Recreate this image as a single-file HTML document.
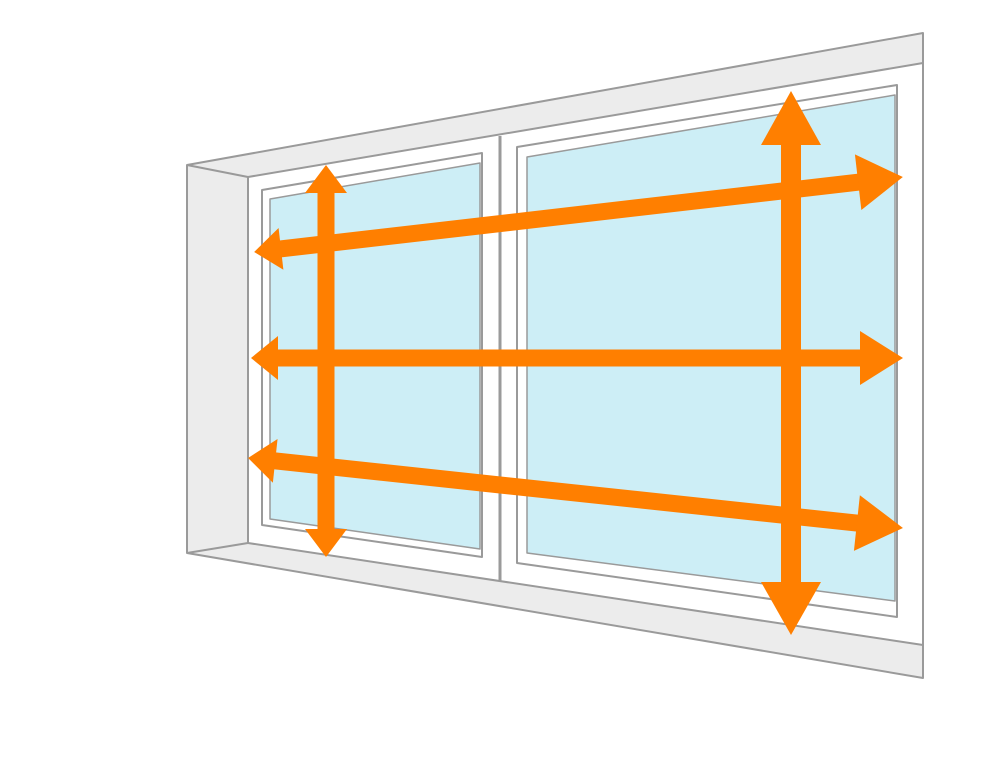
<!DOCTYPE html>
<html><head><meta charset="utf-8"><style>html,body{margin:0;padding:0;background:#fff}svg{display:block}</style></head>
<body>
<svg width="1000" height="760" viewBox="0 0 1000 760" xmlns="http://www.w3.org/2000/svg">
<g stroke="#9a9a9a" stroke-width="2" stroke-linejoin="round">
  <polygon points="187,165 923,33 923,678 187,553" fill="#ececec"/>
  <polygon points="248,177 923,63 923,645 248,543" fill="#ffffff"/>
  <line x1="187" y1="165" x2="248" y2="177"/>
  <line x1="187" y1="553" x2="248" y2="543"/>
  <line x1="500" y1="136" x2="500" y2="581" stroke-width="3"/>
  <polygon points="262,190 482,153 482,557 262,525" fill="#ffffff"/>
  <polygon points="270,199 480,163 480,549 270,519" fill="#cdeef6" stroke-width="1.5"/>
  <polygon points="517,147 897,85 897,617 517,563" fill="#ffffff"/>
  <polygon points="527,157 895,95 895,601 527,553" fill="#cdeef6" stroke-width="1.5"/>
</g>
<g fill="#ff7f00">
  <g transform="translate(578.5,214.5) rotate(-6.59)">
    <rect x="-310" y="-8.5" width="610" height="17"/>
    <polygon points="-326.5,0 -299.5,-21 -299.5,21"/>
    <polygon points="326.5,0 281.5,-28 281.5,28"/>
  </g>
  <g transform="translate(577,358)">
    <rect x="-310" y="-8.5" width="610" height="17"/>
    <polygon points="-326,0 -299,-22 -299,22"/>
    <polygon points="326,0 283,-27 283,27"/>
  </g>
  <g transform="translate(575.5,493) rotate(6.1)">
    <rect x="-312" y="-8.5" width="615" height="17"/>
    <polygon points="-329.3,0 -302,-22 -302,22"/>
    <polygon points="329.3,0 283,-28 283,28"/>
  </g>
  <rect x="317.5" y="180" width="17" height="362"/>
  <polygon points="326,165 305,193 347,193"/>
  <polygon points="326,557 305,529 347,529"/>
  <rect x="781" y="120" width="20" height="486"/>
  <polygon points="791,91 761,145 821,145"/>
  <polygon points="791,635 761,582 821,582"/>
</g>
</svg>
</body></html>
